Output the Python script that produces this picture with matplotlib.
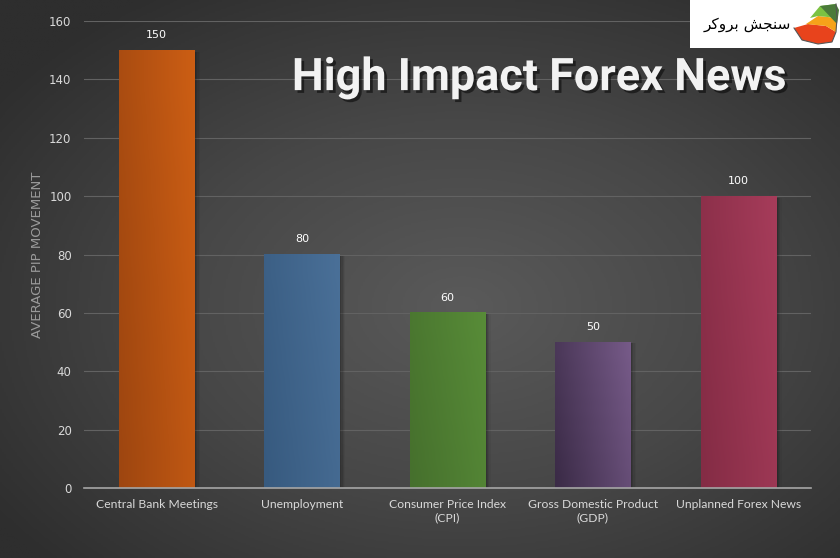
import matplotlib
matplotlib.use("Agg")
import matplotlib.pyplot as plt
import matplotlib.patheffects as pe
from matplotlib.patches import Rectangle, Polygon
from matplotlib.colors import LinearSegmentedColormap
import matplotlib.transforms as mtransforms
import numpy as np

categories = ["Central Bank Meetings", "Unemployment", "Consumer Price Index\n(CPI)",
              "Gross Domestic Product\n(GDP)", "Unplanned Forex News"]
values = [150, 80, 60, 50, 100]
# left (dark) / right (light) colour of each bar
bar_dark = ["#9e4610", "#375a7f", "#46702d", "#3b2b47", "#842c45"]
bar_light = ["#cc5e14", "#4a7098", "#588c38", "#765a88", "#a63c5a"]
yticks = [0, 20, 40, 60, 80, 100, 120, 140, 160]

fig = plt.figure(figsize=(8.4, 5.58), dpi=100)

# background radial gradient
bg = fig.add_axes([0, 0, 1, 1], zorder=-10)
yy, xx = np.mgrid[0:1:300j, 0:1:450j]
r = np.sqrt(((xx - 0.55) / 0.75) ** 2 + ((yy - 0.45) / 0.75) ** 2)
bg_cmap = LinearSegmentedColormap.from_list("bg", ["#5a5a5a", "#474747", "#2e2e2e"])
bg.imshow(r, cmap=bg_cmap, vmin=0, vmax=0.9, extent=[0, 1, 0, 1], aspect="auto", origin="lower")
bg.axis("off")

ax = fig.add_axes([0.1, 0.1254, 0.8655, 0.837])
ax.patch.set_alpha(0)
ax.set_yticks(yticks)
ax.set_xticks(range(len(categories)))
ax.set_xticklabels(categories, fontsize=8.7, color="#d9d9d9", family="Lato")
ax.tick_params(axis="y", labelsize=8.5, labelcolor="#d9d9d9", length=0, pad=9)
ax.tick_params(axis="x", length=0, pad=8)
ax.grid(axis="y", color="#626262", lw=0.8)
ax.set_axisbelow(True)
for s in ["top", "right", "left"]:
    ax.spines[s].set_visible(False)
ax.spines["bottom"].set_color("#a6a6a6")
ax.spines["bottom"].set_linewidth(1.2)
ax.spines["bottom"].set_zorder(5)
ax.set_ylabel("AVERAGE PIP MOVEMENT", color="#9a9a9a", fontsize=9.5, labelpad=4)

width = 0.52
for k, a in [(1, 0.18), (2, 0.14), (3, 0.10), (4, 0.06)]:
    shadow_tr = mtransforms.offset_copy(ax.transData, fig=fig, x=k, y=-1, units="points")
    for i, v in enumerate(values):
        ax.add_patch(Rectangle((i - width / 2, 0), width, v, facecolor="#151515", alpha=a,
                               transform=shadow_tr, zorder=1, lw=0))
for i, v in enumerate(values):
    x0 = i - width / 2
    cmap = LinearSegmentedColormap.from_list("b%d" % i, [bar_dark[i], bar_light[i]])
    g = np.tile(np.linspace(0, 1, 64), (8, 1))
    g = g + np.linspace(0, 0.35, 8)[:, None]
    ax.imshow(g / 1.35, cmap=cmap, vmin=0, vmax=1, extent=[x0, x0 + width, 0, v],
              aspect="auto", origin="lower", zorder=2)
    ax.text(i, v + 3.5, str(v), ha="center", va="bottom", fontsize=8, color="white")
ax.set_xlim(-0.5, len(values) - 0.5)
ax.set_ylim(0, 160)

# title
fig.text(0.3475, 0.86, "High Impact Forex News", fontsize=32.4, fontweight="bold",
         family="Roboto", color="#f2f2f2", va="center", ha="left",
         path_effects=[pe.withSimplePatchShadow(offset=(2, -2), shadow_rgbFace="black", alpha=0.5)])

# logo box
logo = fig.add_axes([690 / 840, 1 - 48 / 558, 150 / 840, 48 / 558])
logo.set_xlim(0, 150)
logo.set_ylim(0, 48)
logo.set_facecolor("white")
logo.set_xticks([])
logo.set_yticks([])
for s in logo.spines.values():
    s.set_visible(False)
logo.text(57, 24, "\uFEAE\uFB90\uFEED\uFEAE\uFE91 \uFEB6\uFEA0\uFEE8\uFEB3",
          fontsize=11, color="black", ha="center", va="center", family=["DejaVu Sans"])
logo.add_patch(Polygon([[104, 20], [112, 8], [128, 4], [142, 6], [146, 16], [136, 22], [118, 24]],
                       closed=True, facecolor="#e8431c", lw=0))
logo.add_patch(Polygon([[116, 24], [136, 22], [146, 16], [147, 30], [128, 32]],
                       closed=True, facecolor="#f6a21a", lw=0))
logo.add_patch(Polygon([[120, 30], [128, 32], [147, 30], [146, 44], [130, 42]],
                       closed=True, facecolor="#7cc242", lw=0))
logo.add_patch(Polygon([[130, 42], [146, 44], [149, 38], [147, 24]],
                       closed=True, facecolor="#4a7a3a", lw=0))
logo.plot([104, 112, 128, 142, 146, 147, 146], [20, 8, 4, 6, 16, 30, 44], color="#555555", lw=0.8)

fig.savefig("out.png", dpi=100)
